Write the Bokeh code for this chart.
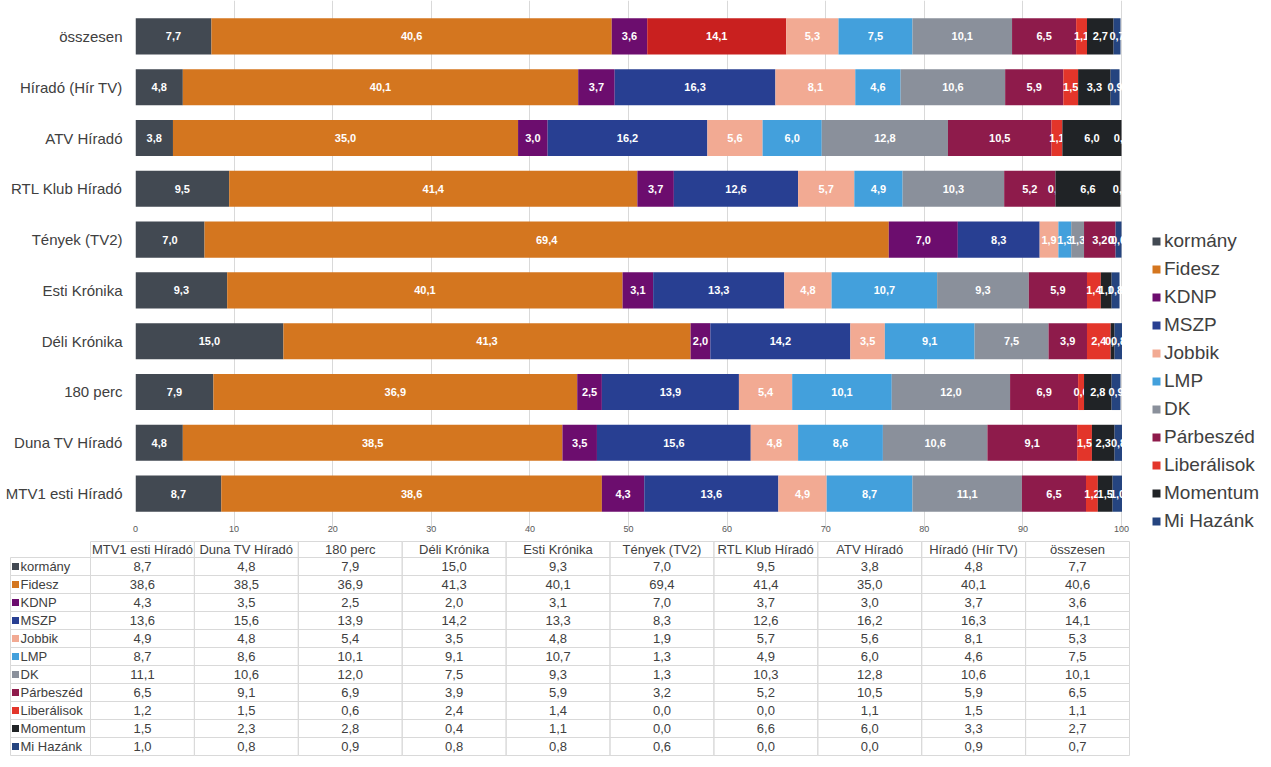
import numpy as np

from bokeh.plotting import figure
from bokeh.models import ColumnDataSource, FactorRange, Range1d, Legend, LegendItem, FixedTicker
from bokeh.core.properties import value
from bokeh.embed import file_html
from bokeh.resources import INLINE

#-------------- data ----------#
shows = ["MTV1 esti Híradó", "Duna TV Híradó", "180 perc", "Déli Krónika", "Esti Krónika",
         "Tények (TV2)", "RTL Klub Híradó", "ATV Híradó", "Híradó (Hír TV)", "összesen"]
parties = ["kormány", "Fidesz", "KDNP", "MSZP", "Jobbik", "LMP", "DK",
           "Párbeszéd", "Liberálisok", "Momentum", "Mi Hazánk"]

kormany = [8.7, 4.8, 7.9, 15.0, 9.3, 7.0, 9.5, 3.8, 4.8, 7.7]
fidesz = [38.6, 38.5, 36.9, 41.3, 40.1, 69.4, 41.4, 35.0, 40.1, 40.6]
kdnp = [4.3, 3.5, 2.5, 2.0, 3.1, 7.0, 3.7, 3.0, 3.7, 3.6]
mszp = [13.6, 15.6, 13.9, 14.2, 13.3, 8.3, 12.6, 16.2, 16.3, 14.1]
jobbik = [4.9, 4.8, 5.4, 3.5, 4.8, 1.9, 5.7, 5.6, 8.1, 5.3]
lmp = [8.7, 8.6, 10.1, 9.1, 10.7, 1.3, 4.9, 6.0, 4.6, 7.5]
dk = [11.1, 10.6, 12.0, 7.5, 9.3, 1.3, 10.3, 12.8, 10.6, 10.1]
parbeszed = [6.5, 9.1, 6.9, 3.9, 5.9, 3.2, 5.2, 10.5, 5.9, 6.5]
liberalisok = [1.2, 1.5, 0.6, 2.4, 1.4, 0.0, 0.0, 1.1, 1.5, 1.1]
momentum = [1.5, 2.3, 2.8, 0.4, 1.1, 0.0, 6.6, 6.0, 3.3, 2.7]
mi_hazank = [1.0, 0.8, 0.9, 0.8, 0.8, 0.6, 0.0, 0.0, 0.9, 0.7]

series = [kormany, fidesz, kdnp, mszp, jobbik, lmp, dk, parbeszed, liberalisok, momentum, mi_hazank]
colors = ["#424952", "#d4761f", "#6c0d6e", "#283f92", "#f2aa93", "#43a0dc", "#8a909b",
          "#8e1b4b", "#e3352a", "#202326", "#25447f"]
#-------------------------------#

W = 1271
FONT = "Liberation Sans"
TXT = "#404040"
PX = 9.86           # pixels per percent on the bar axis


def fmt(v):
    return ("%.1f" % v).replace(".", ",")


#------------- stacked bars ------------#
# frame runs to the right edge so the legend can sit inside it
p = figure(width=W, height=540,
           y_range=FactorRange(factors=shows, range_padding=0.2067, range_padding_units="absolute"),
           x_range=Range1d(0, (W - 135) / PX),
           output_backend="svg", toolbar_location=None,
           min_border_left=135, min_border_right=0, min_border_top=0, min_border_bottom=11)
p.outline_line_color = None

left = np.zeros(len(shows))
items = []
for name, vals, col in zip(parties, series, colors):
    vals = np.array(vals)
    fill = [col] * len(shows)
    if name == "MSZP":
        fill[-1] = "#c9201f"      # the total bar shows MSZP in red
    src = ColumnDataSource(dict(y=shows, left=left, right=left + vals, mid=left + vals / 2,
                                lbl=[fmt(v) for v in vals], fill=fill))
    r = p.hbar(y="y", left="left", right="right", height=0.71, fill_color="fill",
               line_color=None, source=src)
    p.text(x="mid", y="y", text="lbl", source=src, text_align="center", text_baseline="middle",
           text_color="white", text_font=value(FONT), text_font_style="bold", text_font_size="11px")
    items.append(LegendItem(label=name, renderers=[r], index=0))
    left = left + vals

# bars are cut at 100 like in the original chart
p.hbar(y=shows, left=100.05, right=102.5, height=0.75, fill_color="white", line_color=None)

legend = Legend(items=items, location=(1016, -3), padding=0, margin=0, border_line_color=None,
                background_fill_alpha=0, label_text_font=FONT, label_text_font_size="19px",
                label_text_color=TXT, glyph_width=10, glyph_height=10, label_height=22,
                label_standoff=3, spacing=6)
p.add_layout(legend)

p.xaxis.ticker = FixedTicker(ticks=list(range(0, 101, 10)))
p.xgrid.ticker = FixedTicker(ticks=list(range(0, 101, 10)))
p.xgrid.grid_line_color = "#d9d9d9"
p.ygrid.grid_line_color = None
p.xaxis.axis_line_color = None
p.xaxis.major_tick_line_color = None
p.xaxis.minor_tick_line_color = None
p.xaxis.major_label_text_font = FONT
p.xaxis.major_label_text_font_size = "9px"
p.xaxis.major_label_text_color = "#595959"
p.xaxis.major_label_standoff = -10
p.yaxis.axis_line_color = None
p.yaxis.major_tick_line_color = None
p.yaxis.major_tick_out = 0
p.yaxis.major_tick_in = 0
p.yaxis.major_label_text_font = FONT
p.yaxis.major_label_text_font_size = "15px"
p.yaxis.major_label_text_color = TXT
p.yaxis.major_label_standoff = 13
#--------------------------------------#

#------------- data table ------------#
t = figure(width=W, height=227, x_range=Range1d(0, W), y_range=Range1d(227, 0),
           output_backend="svg", toolbar_location=None, x_axis_location=None,
           y_axis_location=None, min_border=0)
t.outline_line_color = None
t.grid.visible = False

x0, w0, cw = 10, 80, 103.9
top, hh, rh = 1, 16, 18
TS = "13px"

hx = [x0 + w0 + cw * (j + 0.5) for j in range(len(shows))]
t.rect(x=hx, y=top + hh / 2, width=cw, height=hh, fill_color=None, line_color="#d9d9d9")
t.text(x=hx, y=[top + hh / 2] * len(shows), text=shows, text_align="center", text_baseline="middle",
       text_color=TXT, text_font=value(FONT), text_font_size=TS)

ry = [top + hh + rh * (i + 0.5) for i in range(len(parties))]
t.rect(x=x0 + w0 / 2, y=ry, width=w0, height=rh, fill_color=None, line_color="#d9d9d9")
t.scatter(x=x0 + 5, y=ry, marker="square", size=7, fill_color=colors, line_color=None)
t.text(x=[x0 + 10] * len(parties), y=ry, text=parties, text_align="left", text_baseline="middle",
       text_color=TXT, text_font=value(FONT), text_font_size=TS)

cx, cy, ct = [], [], []
for i, vals in enumerate(series):
    for j, v in enumerate(vals):
        cx.append(hx[j])
        cy.append(ry[i])
        ct.append(fmt(v))
t.rect(x=cx, y=cy, width=cw, height=rh, fill_color=None, line_color="#d9d9d9")
t.text(x=cx, y=cy, text=ct, text_align="center", text_baseline="middle",
       text_color=TXT, text_font=value(FONT), text_font_size=TS)
#--------------------------------------#

open("out.html", "w").write(file_html([p, t], INLINE))
